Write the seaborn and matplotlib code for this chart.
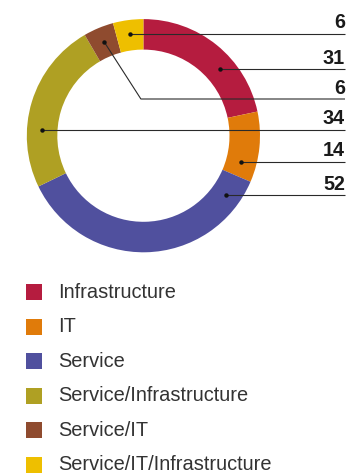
import numpy as np
import matplotlib
matplotlib.use("Agg")
import matplotlib.pyplot as plt
import seaborn as sns
from matplotlib.patches import Rectangle

# ---- data ----
categories = ["Infrastructure", "IT", "Service", "Service/Infrastructure",
              "Service/IT", "Service/IT/Infrastructure"]
counts = [31, 14, 52, 34, 6, 6]
colors = ["#B51C3F", "#E07B0A", "#50509E", "#AFA023", "#8F4B2F", "#EEBF00"]
# order in which the value labels are stacked on the right (top to bottom)
label_order = ["Service/IT/Infrastructure", "Infrastructure", "Service/IT",
               "Service/Infrastructure", "IT", "Service"]

sns.set_theme(style="white")
plt.rcParams["font.family"] = ["Liberation Sans", "DejaVu Sans"]

W, H = 363, 476
fig = plt.figure(figsize=(W / 100, H / 100), dpi=100)
ax = fig.add_axes([0, 0, 1, 1])

cx, cy = 143.4, H - 135.7
R, ring = 116.6, 30.5
palette = sns.color_palette(colors)
wedges, _ = ax.pie(counts, colors=palette, startangle=90, counterclock=False,
                   radius=R, center=(cx, cy), frame=False,
                   wedgeprops=dict(width=ring, edgecolor="none", linewidth=0))
ax.set_xlim(0, W)
ax.set_ylim(0, H)
ax.set_aspect("equal")
ax.axis("off")

# ---- value labels with leader lines ----
row_pix = [34, 69, 99, 130, 162, 195]
x_end = 345
rmid = R - ring / 2
line_col = "#2a2a2a"


def in_range(a, t1, t2, margin=3):
    a = a % 360
    for off in (-360, 0, 360):
        if t1 + margin < a + off < t2 - margin:
            return True
    return False


for i, cat in enumerate(label_order):
    k = categories.index(cat)
    w = wedges[k]
    t1, t2 = min(w.theta1, w.theta2), max(w.theta1, w.theta2)
    yd = H - row_pix[i]
    s = (yd - cy) / rmid
    dot = None
    if abs(s) <= 1:
        a1 = np.degrees(np.arcsin(s))
        for a in (a1, 180 - a1):
            if in_range(a, t1, t2):
                dot = (cx + rmid * np.cos(np.radians(a)), yd)
                break
    if dot is not None:
        ax.plot([dot[0], x_end], [yd, yd], color=line_col, lw=0.8,
                solid_capstyle="butt")
    else:
        am = np.radians((t1 + t2) / 2)
        px, py = cx + rmid * np.cos(am), cy + rmid * np.sin(am)
        if abs(py - yd) < 3:
            dot = (px, yd)
            ax.plot([px, x_end], [yd, yd], color=line_col, lw=0.8,
                    solid_capstyle="butt")
        else:
            dot = (px, py)
            knee = cx - 2.5
            ax.plot([px, knee, x_end], [py, yd, yd], color=line_col, lw=0.8,
                    solid_capstyle="butt")
    ax.plot([dot[0]], [dot[1]], "o", color="#111111", markersize=3.2,
            markeredgewidth=0)
    ax.text(x_end, yd + 5.5, str(counts[k]), ha="right", va="baseline",
            fontsize=14.2, fontweight="bold", color="#1a1a1a")

# ---- legend ----
leg_y0, leg_dy = 292, 34.6
for j, (cat, c) in enumerate(zip(categories, palette)):
    yc = H - (leg_y0 + j * leg_dy)
    ax.add_patch(Rectangle((26, yc - 8), 16, 16, facecolor=c, edgecolor="none"))
    ax.text(58, yc, cat, ha="left", va="center", fontsize=14.4, color="#333333")

fig.savefig("out.png", dpi=100)
